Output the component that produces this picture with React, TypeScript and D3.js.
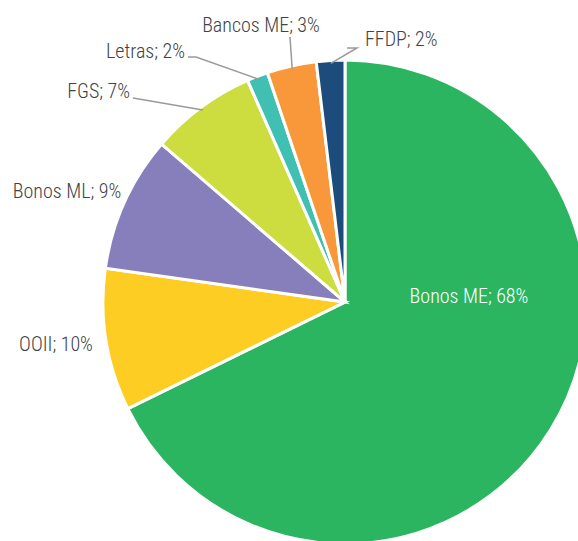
import React from "react";
import * as d3 from "d3";

const categories = ["Bonos ME", "OOII", "Bonos ML", "FGS", "Letras", "Bancos ME", "FFDP"];
const values = [67.8, 9.5, 9.1, 7.1, 1.4, 3.3, 1.9];
const labels = ["Bonos ME; 68%", "OOII; 10%", "Bonos ML; 9%", "FGS; 7%", "Letras; 2%", "Bancos ME; 3%", "FFDP; 2%"];
const colors = ["#2bb560", "#fecd24", "#877fbc", "#cddc3e", "#40bfb3", "#f8983a", "#1b4c7c"];

// label layout (presentation only)
const layout: Record<string, { x: number; y: number; anchor: string; fill: string; leader?: [number, number][] }> = {
  "Bonos ME": { x: 469, y: 303, anchor: "middle", fill: "#ffffff" },
  "OOII": { x: 56, y: 351, anchor: "middle", fill: "#404347" },
  "Bonos ML": { x: 67, y: 198, anchor: "middle", fill: "#404347" },
  "FGS": { x: 130, y: 98, anchor: "end", fill: "#404347", leader: [[133, 98]] },
  "Letras": { x: 185, y: 58, anchor: "end", fill: "#404347", leader: [[188, 57], [196, 57]] },
  "Bancos ME": { x: 261, y: 32, anchor: "middle", fill: "#404347", leader: [[290, 37]] },
  "FFDP": { x: 365, y: 46, anchor: "start", fill: "#404347", leader: [[347, 48], [357, 48]] },
};

export default function App() {
  const W = 578, H = 541;
  const cx = 345, cy = 302, R = 242;
  const pie = d3.pie<number>().sort(null).value((d) => d).startAngle(0).endAngle(2 * Math.PI);
  const arcs = pie(values);
  const arc = d3.arc<d3.PieArcDatum<number>>().innerRadius(0).outerRadius(R);
  const line = d3.line();
  const font = "'Liberation Sans Narrow', 'Roboto Condensed', Roboto, sans-serif";
  return (
    <svg width={W} height={H} style={{ position: "absolute", left: 0, top: 0, background: "#fff" }}>
      <g transform={`translate(${cx},${cy})`}>
        {arcs.map((a, i) => (
          <path key={i} d={arc(a) || ""} fill={colors[i]} stroke="#fff" strokeWidth={3} strokeLinejoin="miter" />
        ))}
      </g>
      {arcs.map((a, i) => {
        const L = layout[categories[i]];
        if (!L.leader) return null;
        const mid = (a.startAngle + a.endAngle) / 2;
        const start: [number, number] = [cx + (R - 3) * Math.sin(mid), cy - (R - 3) * Math.cos(mid)];
        const pts: [number, number][] = [start, ...L.leader.slice().reverse()];
        return <path key={"l" + i} d={line(pts) || ""} fill="none" stroke="#9a9a9a" strokeWidth={1.5} />;
      })}
      {arcs.map((a, i) => {
        const L = layout[categories[i]];
        return (
          <text key={"t" + i} x={L.x} y={L.y} textAnchor={L.anchor as any} fill={L.fill}
            style={{ fontFamily: font, fontSize: 20, fontWeight: 300 }}>
            {labels[i]}
          </text>
        );
      })}
    </svg>
  );
}
